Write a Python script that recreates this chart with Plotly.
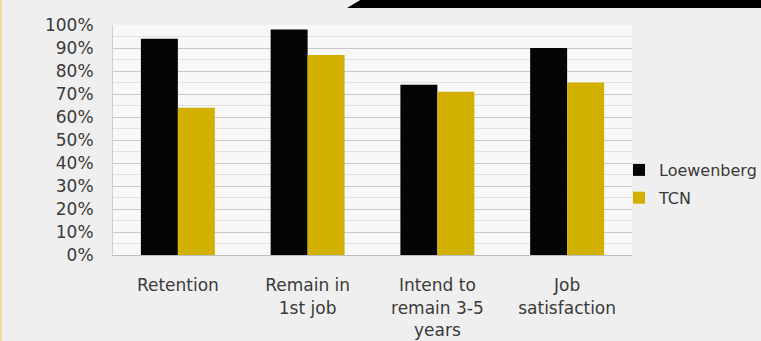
import plotly.graph_objects as go

categories = ["Retention", "Remain in<br>1st job", "Intend to<br>remain 3-5<br>years", "Job<br>satisfaction"]
loewenberg = [0.94, 0.98, 0.74, 0.90]
tcn = [0.64, 0.87, 0.71, 0.75]
series_names = ["Loewenberg", "TCN"]
y_ticks = [i / 10 for i in range(11)]
y_tick_labels = [f"{i * 10}%" for i in range(11)]

FONT = "DejaVu Sans"
W, H = 761, 341
L, R, T, B = 113, 632, 25, 255

fig = go.Figure()
fig.add_trace(go.Bar(x=categories, y=loewenberg, name=series_names[0],
                     marker=dict(color="#050505", line=dict(width=0)), legendgroup="a"))
fig.add_trace(go.Bar(x=categories, y=tcn, name=series_names[1],
                     marker=dict(color="#d2b000", line=dict(width=0)), legendgroup="b"))

def px2x(px):
    return (px - L) / (R - L)

def px2y(py):
    return (B - py) / (B - T)

shapes = [
    # black banner in top-right corner
    dict(type="path", xref="paper", yref="paper",
         path=f"M {px2x(347)},{px2y(8)} L {px2x(362)},{px2y(-1)} L {px2x(770)},{px2y(-1)} L {px2x(770)},{px2y(8)} Z",
         fillcolor="#000000", line=dict(width=0), layer="above"),
    # faint yellow edge on left
    dict(type="line", xref="paper", yref="paper",
         x0=px2x(1), x1=px2x(1), y0=px2y(0), y1=px2y(341),
         line=dict(color="#f2d9a0", width=2)),
]

fig.update_layout(
    width=W, height=H, autosize=False,
    margin=dict(l=L, r=W - R, t=T, b=H - B, autoexpand=False),
    paper_bgcolor="#efefef",
    plot_bgcolor="#f8f8f8",
    barmode="group",
    bargap=0.43,
    bargroupgap=0,
    font=dict(family=FONT, size=17, color="#3a3a3a"),
    showlegend=True,
    legend=dict(x=619 / W, y=1 - 184 / H, xanchor="left", yanchor="middle",
                xref="container", yref="container", bgcolor="rgba(0,0,0,0)",
                font=dict(family=FONT, size=16, color="#3a3a3a"),
                traceorder="grouped", tracegroupgap=4, itemwidth=30),
    shapes=shapes,
)
fig.update_yaxes(range=[0, 1], tickvals=y_ticks, ticktext=y_tick_labels,
                 showgrid=True, gridcolor="#c8c8c8", gridwidth=1,
                 minor=dict(dtick=0.05, showgrid=True, gridcolor="#e2e2e2"),
                 showline=True, linecolor="#cfcfcf", linewidth=1,
                 ticks="", ticklabelstandoff=15, zeroline=False, automargin=False,
                 tickfont=dict(family=FONT, size=17, color="#3a3a3a"))
fig.update_xaxes(showgrid=False, showline=True, linecolor="#bdbdbd", linewidth=1,
                 ticks="", ticklabelstandoff=15, automargin=False,
                 tickfont=dict(family=FONT, size=17, color="#3a3a3a"))

fig.write_html(
    "out.html",
    config={"responsive": False, "displayModeBar": False},
    post_script="document.body.style.margin='0';document.body.style.overflow='hidden';"
                "document.body.style.background='#efefef';",
)
